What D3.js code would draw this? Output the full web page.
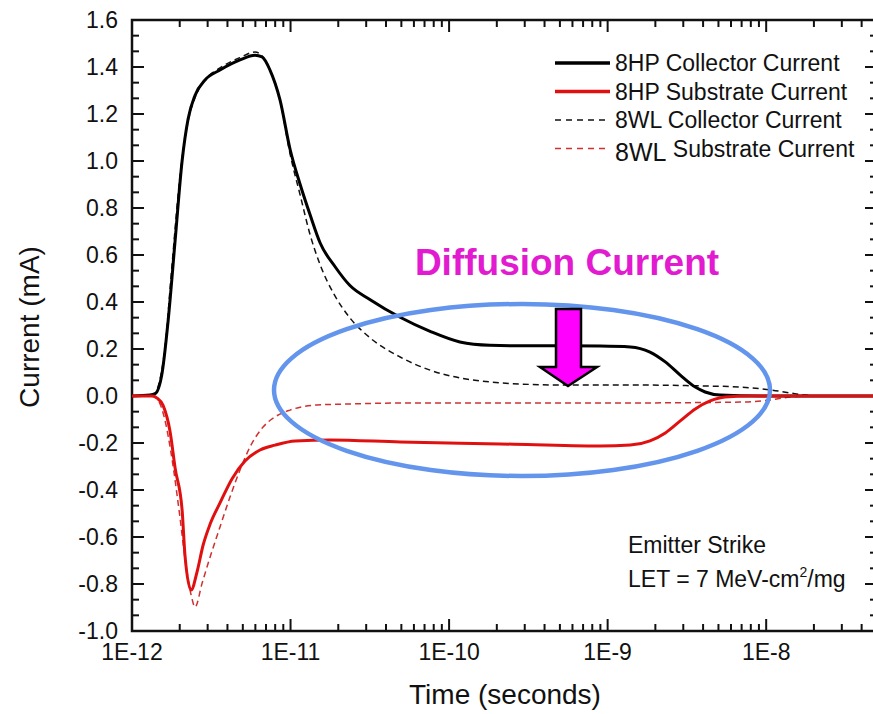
<!DOCTYPE html>
<html><head><meta charset="utf-8">
<script src="https://cdn.jsdelivr.net/npm/d3@7/dist/d3.min.js"></script>
<style>
body{margin:0;background:#fff}
svg{display:block}
text{font-family:"Liberation Sans",Arial,Helvetica,sans-serif}
</style>
</head><body>
<svg id="chart" width="873" height="714"></svg>
<script>
// ---------- data (time in seconds, current in mA) ----------
const hpCollectorTime = [1e-12,1.30e-12,1.40e-12,1.55e-12,1.69e-12,1.87e-12,2.07e-12,2.26e-12,2.50e-12,2.89e-12,3.59e-12,4.80e-12,5.97e-12,6.61e-12,7.42e-12,8.58e-12,9.93e-12,1.15e-11,1.33e-11,1.54e-11,1.91e-11,2.37e-11,3.18e-11,4.91e-11,7.59e-11,1.17e-10,1.81e-10,2.81e-10,5.01e-10,8.97e-10,1.39e-9,1.85e-9,2.31e-9,2.87e-9,3.57e-9,4.12e-9,5.13e-9,9.16e-9,5e-8];
const hpCollectorCurrent = [0,0.004,0.01,0.10,0.32,0.66,1.00,1.18,1.28,1.345,1.387,1.43,1.45,1.443,1.387,1.26,1.05,0.90,0.77,0.65,0.55,0.47,0.41,0.335,0.275,0.23,0.216,0.214,0.214,0.213,0.209,0.187,0.145,0.089,0.038,0.017,0.004,0,0];

const hpSubstrateTime = [1e-12,1.34e-12,1.44e-12,1.57e-12,1.74e-12,1.87e-12,2.07e-12,2.16e-12,2.36e-12,2.57e-12,2.81e-12,3.11e-12,3.59e-12,4.27e-12,5.16e-12,6.42e-12,7.98e-12,1.07e-11,1.78e-11,4.91e-11,2.10e-10,8.97e-10,1.39e-9,1.85e-9,2.31e-9,2.87e-9,3.57e-9,4.43e-9,5.51e-9,7.93e-9,5e-8];
const hpSubstrateCurrent = [0,0,-0.009,-0.04,-0.153,-0.306,-0.485,-0.68,-0.826,-0.749,-0.634,-0.545,-0.455,-0.353,-0.277,-0.23,-0.209,-0.191,-0.187,-0.196,-0.204,-0.213,-0.209,-0.191,-0.157,-0.106,-0.055,-0.021,-0.004,0,0];

const wlCollectorTime = [1e-12,1.34e-12,1.46e-12,1.61e-12,1.79e-12,2.01e-12,2.26e-12,2.50e-12,2.89e-12,3.59e-12,4.80e-12,5.97e-12,6.61e-12,7.42e-12,8.58e-12,9.93e-12,1.15e-11,1.33e-11,1.54e-11,1.91e-11,2.37e-11,3.18e-11,4.91e-11,7.59e-11,1.17e-10,1.81e-10,2.81e-10,5.01e-10,1.2e-9,3.84e-9,6.86e-9,1.06e-8,1.42e-8,1.76e-8,2.19e-8,5e-8];
const wlCollectorCurrent = [0,0,0.04,0.2,0.56,0.94,1.17,1.27,1.345,1.396,1.44,1.464,1.447,1.387,1.26,1.03,0.855,0.685,0.557,0.425,0.332,0.247,0.166,0.11,0.077,0.06,0.051,0.047,0.047,0.043,0.038,0.026,0.013,0.004,0,0];

const wlSubstrateTime = [1e-12,1.357e-12,1.46e-12,1.61e-12,1.79e-12,1.98e-12,2.19e-12,2.36e-12,2.50e-12,2.77e-12,3.11e-12,3.59e-12,4.15e-12,4.80e-12,5.55e-12,6.71e-12,7.98e-12,9.93e-12,1.47e-11,2.37e-11,4.91e-11,8.97e-10,6.84e-9,1.06e-8,1.42e-8,1.90e-8,5e-8];
const wlSubstrateCurrent = [0,0,-0.017,-0.10,-0.27,-0.485,-0.72,-0.847,-0.898,-0.796,-0.685,-0.557,-0.43,-0.315,-0.217,-0.132,-0.089,-0.06,-0.038,-0.034,-0.03,-0.03,-0.026,-0.017,-0.004,0,0];

const seriesNames = ["8HP Collector Current","8HP Substrate Current","8WL Collector Current","8WL Substrate Current"];
const xTickValues = [1e-12,1e-11,1e-10,1e-9,1e-8];
const xTickLabels = ["1E-12","1E-11","1E-10","1E-9","1E-8"];
const yTickValues = [-1.0,-0.8,-0.6,-0.4,-0.2,0.0,0.2,0.4,0.6,0.8,1.0,1.2,1.4,1.6];
const xDomain = [1e-12, 5e-8];
const yDomain = [-1.0, 1.6];

// ---------- layout ----------
const svg = d3.select("#chart");
const L = 132, R = 877, T = 20, B = 631;
const x = d3.scaleLog().domain(xDomain).range([L, R]);
const y = d3.scaleLinear().domain(yDomain).range([B, T]);

const zip = (ts, vs) => ts.map((t, i) => ({t, v: vs[i]}));
const line = d3.line().x(d => x(d.t)).y(d => y(d.v)).curve(d3.curveMonotoneX);

// minor ticks
const xMinor = [];
for (let e = -12; e <= -8; e++) for (let m = 2; m <= 9; m++) { const v = m * Math.pow(10, e); if (v <= xDomain[1]) xMinor.push(v); }
const yMinor = [];
for (let i = 0; i < yTickValues.length - 1; i++) { const a = yTickValues[i]; yMinor.push(a + 0.2/3, a + 0.4/3); }

const axisColor = "#111";
const frame = svg.append("g");
// ticks (inward on all sides)
function tickLines(vals, len, cls) {
  // bottom
  frame.selectAll(null).data(vals).enter().append("line")
    .attr("x1", d => x(d)).attr("x2", d => x(d)).attr("y1", B).attr("y2", B - len)
    .attr("stroke", axisColor).attr("stroke-width", 2);
  // top
  frame.selectAll(null).data(vals).enter().append("line")
    .attr("x1", d => x(d)).attr("x2", d => x(d)).attr("y1", T).attr("y2", T + len)
    .attr("stroke", axisColor).attr("stroke-width", 2);
}
tickLines(xTickValues, 12);
tickLines(xMinor, 7);
function yTickLines(vals, len) {
  frame.selectAll(null).data(vals).enter().append("line")
    .attr("x1", L).attr("x2", L + len).attr("y1", d => y(d)).attr("y2", d => y(d))
    .attr("stroke", axisColor).attr("stroke-width", 2);
  frame.selectAll(null).data(vals).enter().append("line")
    .attr("x1", R).attr("x2", R - len).attr("y1", d => y(d)).attr("y2", d => y(d))
    .attr("stroke", axisColor).attr("stroke-width", 2);
}
yTickLines(yTickValues, 12);
yTickLines(yMinor, 7);
frame.append("rect").attr("x", L).attr("y", T).attr("width", R - L).attr("height", B - T)
  .attr("fill", "none").attr("stroke", axisColor).attr("stroke-width", 2.5);

// tick labels
svg.append("g").selectAll("text").data(xTickValues).enter().append("text")
  .attr("x", d => x(d)).attr("y", 660).attr("text-anchor", "middle")
  .attr("font-size", 23).attr("fill", "#111").text((d, i) => xTickLabels[i]);
svg.append("g").selectAll("text").data(yTickValues).enter().append("text")
  .attr("x", 118).attr("y", d => y(d) + 8).attr("text-anchor", "end")
  .attr("font-size", 23).attr("fill", "#111").text(d => d3.format(".1f")(d).replace("−", "-"));

// axis titles
svg.append("text").attr("x", 505).attr("y", 704).attr("text-anchor", "middle")
  .attr("font-size", 28).attr("fill", "#111").text("Time (seconds)");
svg.append("text").attr("transform", "translate(39,327) rotate(-90)").attr("text-anchor", "middle")
  .attr("font-size", 28).attr("fill", "#111").text("Current (mA)");

// ---------- series ----------
const styles = [
  {data: zip(wlCollectorTime, wlCollectorCurrent), color: "#111", w: 1.5, dash: "6,4"},
  {data: zip(wlSubstrateTime, wlSubstrateCurrent), color: "#d03030", w: 1.5, dash: "6,4"},
  {data: zip(hpCollectorTime, hpCollectorCurrent), color: "#000", w: 3, dash: null},
  {data: zip(hpSubstrateTime, hpSubstrateCurrent), color: "#e01010", w: 3, dash: null}
];
const plot = svg.append("g");
styles.forEach(s => {
  plot.append("path").datum(s.data).attr("d", line).attr("fill", "none")
    .attr("stroke", s.color).attr("stroke-width", s.w)
    .attr("stroke-dasharray", s.dash).attr("stroke-linejoin", "round");
});

// ---------- legend ----------
const legendStyles = [
  {color: "#000", w: 3.5, dash: null},
  {color: "#e01010", w: 3.5, dash: null},
  {color: "#111", w: 1.5, dash: "6,5"},
  {color: "#d03030", w: 1.5, dash: "6,5"}
];
const lg = svg.append("g");
seriesNames.forEach((name, i) => {
  const ly = 63 + i * 28.5;
  lg.append("line").attr("x1", 555).attr("x2", 610).attr("y1", ly).attr("y2", ly)
    .attr("stroke", legendStyles[i].color).attr("stroke-width", legendStyles[i].w)
    .attr("stroke-dasharray", legendStyles[i].dash);
  if (i === 3) {
    const t = lg.append("text").attr("x", 615).attr("y", ly + 8).attr("font-size", 23).attr("fill", "#111");
    t.append("tspan").attr("font-size", 25).attr("dy", 4).text("8WL");
    t.append("tspan").attr("dy", -4).text(" Substrate Current");
  } else {
    lg.append("text").attr("x", 615).attr("y", ly + 8).attr("font-size", 23).attr("fill", "#111").text(name);
  }
});

// ---------- annotations ----------
const ann = svg.append("g");
ann.append("text").attr("x", 628).attr("y", 553).attr("font-size", 23).attr("fill", "#111").text("Emitter Strike");
const let7 = ann.append("text").attr("x", 628).attr("y", 587).attr("font-size", 23).attr("fill", "#111");
let7.append("tspan").text("LET = 7 MeV-cm");
let7.append("tspan").attr("font-size", 14).attr("dy", -10).text("2");
let7.append("tspan").attr("dy", 10).text("/mg");

ann.append("text").attr("x", 567).attr("y", 275).attr("text-anchor", "middle")
  .attr("font-size", 37).attr("font-weight", "bold").attr("fill", "#e21bd0").text("Diffusion Current");

ann.append("ellipse").attr("cx", 522).attr("cy", 390).attr("rx", 248).attr("ry", 86)
  .attr("fill", "none").attr("stroke", "#6495ed").attr("stroke-width", 4.5);

ann.append("path")
  .attr("d", "M556,309 L581,309 L581,367 L597,367 L568,386 L540,367 L556,367 Z")
  .attr("fill", "#ff00ff").attr("stroke", "#000").attr("stroke-width", 2.5).attr("stroke-linejoin", "miter");
</script>
</body></html>
